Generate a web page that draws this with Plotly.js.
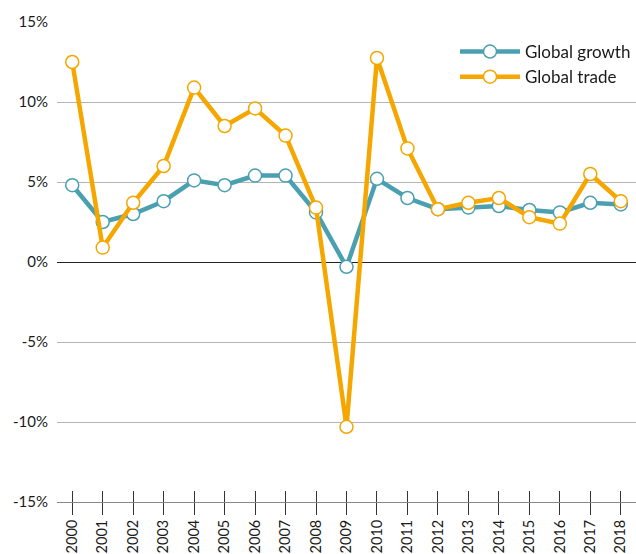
<!DOCTYPE html>
<html><head><meta charset="utf-8">
<script src="https://cdn.plot.ly/plotly-3.0.1.min.js"></script>
<style>html,body{margin:0;padding:0;background:#fff}#chart{width:636px;height:554px}</style>
</head><body><div id="chart"></div>
<script>
const years = ['2000','2001','2002','2003','2004','2005','2006','2007','2008','2009','2010','2011','2012','2013','2014','2015','2016','2017','2018'];
const globalGrowth = [4.8,2.5,3.0,3.8,5.1,4.8,5.4,5.4,3.1,-0.3,5.2,4.0,3.3,3.4,3.5,3.25,3.1,3.7,3.6];
const globalTrade = [12.5,0.9,3.7,6.0,10.9,8.5,9.6,7.9,3.4,-10.3,12.75,7.1,3.3,3.7,4.0,2.8,2.4,5.5,3.8];
const yTickVals = [-15,-10,-5,0,5,10,15];
const yTickText = ['-15%','-10%','-5%','0%','5%','10%','15%'];

const FONT = 'Lato, "Open Sans", sans-serif';
const teal = '#4aa0b0', orange = '#f5a700';
const mk = c => ({symbol:'circle', size:13, color:'#ffffff', line:{color:c, width:1.5}});
const traces = [
  {x:years, y:globalGrowth, name:'Global growth', type:'scatter', mode:'lines+markers',
   line:{color:teal, width:4.5}, marker:mk(teal), cliponaxis:false},
  {x:years, y:globalTrade, name:'Global trade', type:'scatter', mode:'lines+markers',
   line:{color:orange, width:4.5}, marker:mk(orange), cliponaxis:false},
  {x:years, y:globalGrowth, xaxis:'x2', type:'scatter', mode:'markers', opacity:0,
   showlegend:false, hoverinfo:'skip', marker:{size:1}}
];
const layout = {
  width:636, height:554,
  margin:{l:57, r:0, t:22, b:52, pad:0},
  paper_bgcolor:'#fff', plot_bgcolor:'#fff',
  font:{family:FONT, size:15, color:'#1a1a1a'},
  showlegend:true,
  legend:{x:1, xanchor:'right', y:0.975, yanchor:'top', bgcolor:'rgba(0,0,0,0)',
          font:{family:FONT, size:17, color:'#1a1a1a'}, itemwidth:60, tracegroupgap:0},
  xaxis:{type:'category', range:[-0.5,18.5], tickangle:-90, ticks:'outside', ticklen:12,
         tickcolor:'#333', tickwidth:1, showgrid:false, showline:true, linecolor:'#888',
         linewidth:1, zeroline:false, ticklabelstandoff:-1,
         tickfont:{family:FONT, size:14.5, color:'#1a1a1a'}},
  xaxis2:{type:'category', overlaying:'x', matches:'x', anchor:'y', side:'bottom',
          ticks:'inside', ticklen:11, tickcolor:'#333', tickwidth:1, showticklabels:false,
          showgrid:false, showline:false, zeroline:false},
  yaxis:{range:[-15,15], tickvals:yTickVals, ticktext:yTickText, ticks:'', showgrid:true,
         gridcolor:'#b5b5b5', gridwidth:1, zeroline:true, zerolinecolor:'#222', zerolinewidth:1,
         showline:false, ticklabelstandoff:8, tickfont:{family:FONT, size:15, color:'#1a1a1a'}}
};
Plotly.newPlot('chart', traces, layout, {staticPlot:true, displayModeBar:false});
</script></body></html>
